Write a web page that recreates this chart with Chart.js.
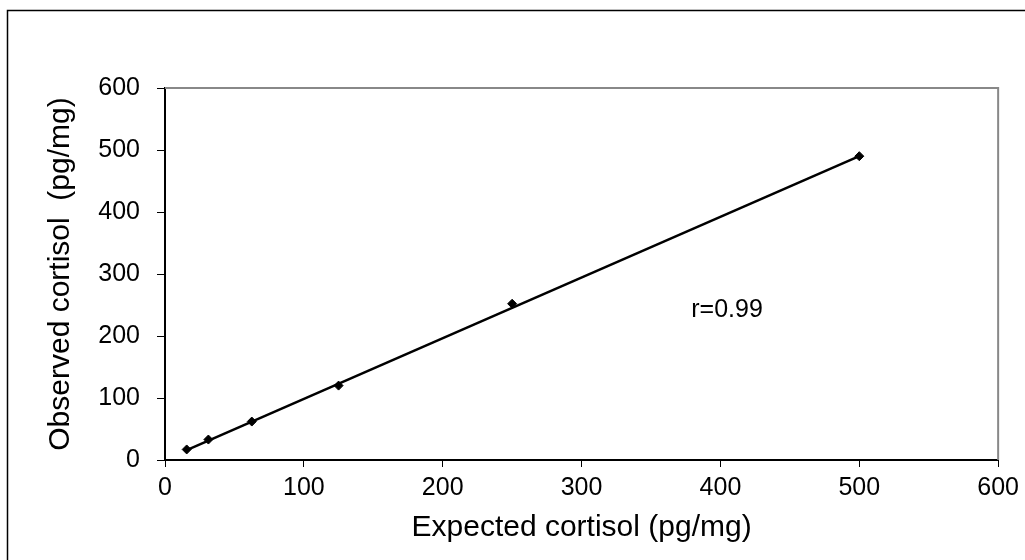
<!DOCTYPE html>
<html>
<head>
<meta charset="utf-8">
<script src="https://cdn.jsdelivr.net/npm/chart.js@4/dist/chart.umd.min.js"></script>
<style>
  html, body { margin: 0; padding: 0; background: #fff; }
  #wrap { width: 1025px; height: 560px; position: relative; }
</style>
</head>
<body>
<div id="wrap"><canvas id="cortisolChart"></canvas></div>
<script>
// values
const expected = [15.625, 31.25, 62.5, 125, 250, 500];
const observed = [17, 33, 62, 120, 252, 490];
const fitX = [15.625, 500];
const fitY = [16, 490];
const axisTicks = [0, 100, 200, 300, 400, 500, 600];
const rLabel = "r=0.99";

const font = "'Liberation Sans', Arial, sans-serif";

const framePlugin = {
    id: "frame",
    beforeDraw(chart) {
        const ctx = chart.ctx;
        ctx.save();
        ctx.fillStyle = "#fff";
        ctx.fillRect(0, 0, chart.width, chart.height);
        ctx.strokeStyle = "#000";
        ctx.lineWidth = 1.5;
        ctx.strokeRect(7.5, 10.5, chart.width + 10, chart.height + 10);
        ctx.restore();
    },
    beforeDatasetsDraw(chart) {
        const { ctx, chartArea } = chart;
        ctx.save();
        ctx.strokeStyle = "#888";
        ctx.lineWidth = 2;
        ctx.beginPath();
        ctx.moveTo(chartArea.left, chartArea.top);
        ctx.lineTo(chartArea.right, chartArea.top);
        ctx.lineTo(chartArea.right, chartArea.bottom);
        ctx.stroke();
        ctx.restore();
    },
    afterDraw(chart) {
        const { ctx, scales } = chart;
        ctx.save();
        ctx.fillStyle = "#000";
        ctx.font = "25px " + font;
        ctx.textAlign = "left";
        ctx.textBaseline = "middle";
        ctx.fillText(rLabel, scales.x.getPixelForValue(379), scales.y.getPixelForValue(242));
        ctx.restore();
    },
};

const ctx = document.getElementById("cortisolChart");
new Chart(ctx, {
    type: "scatter",
    data: {
        datasets: [
            {
                label: "fit",
                type: "line",
                data: fitX.map((x, i) => ({ x: x, y: fitY[i] })),
                borderColor: "#000",
                borderWidth: 2.5,
                pointRadius: 0,
                fill: false,
            },
            {
                label: "observed",
                data: expected.map((x, i) => ({ x: x, y: observed[i] })),
                pointStyle: "rectRot",
                pointRadius: 4.5,
                backgroundColor: "#000",
                borderColor: "#000",
            },
        ],
    },
    options: {
        responsive: true,
        maintainAspectRatio: false,
        animation: false,
        layout: { padding: { left: 0, top: 88, right: 25, bottom: 0 } },
        plugins: {
            legend: { display: false },
            tooltip: { enabled: false },
        },
        scales: {
            x: {
                type: "linear",
                min: 0,
                max: 600,
                afterBuildTicks: (scale) => { scale.ticks = axisTicks.map((v) => ({ value: v })); },
                afterFit: (scale) => { scale.height = 100; },
                ticks: { color: "#000", font: { family: font, size: 25 }, padding: 6, maxRotation: 0 },
                grid: { drawOnChartArea: false, color: "#000", tickLength: 7 },
                border: { color: "#000", width: 2 },
                title: {
                    display: true,
                    text: "Expected cortisol (pg/mg)",
                    color: "#000",
                    font: { family: font, size: 30, lineHeight: 1 },
                    padding: { top: 0, bottom: 17 },
                },
            },
            y: {
                min: 0,
                max: 600,
                afterBuildTicks: (scale) => { scale.ticks = axisTicks.map((v) => ({ value: v })); },
                afterFit: (scale) => { scale.width = 165; },
                ticks: { color: "#000", font: { family: font, size: 25 }, padding: 17 },
                grid: { drawOnChartArea: false, color: "#000", tickLength: 8 },
                border: { color: "#000", width: 2 },
                title: {
                    display: true,
                    text: "Observed cortisol  (pg/mg)",
                    color: "#000",
                    font: { family: font, size: 30, lineHeight: 1 },
                    padding: { top: 46, bottom: 0 },
                },
            },
        },
    },
    plugins: [framePlugin],
});
</script>
</body>
</html>
